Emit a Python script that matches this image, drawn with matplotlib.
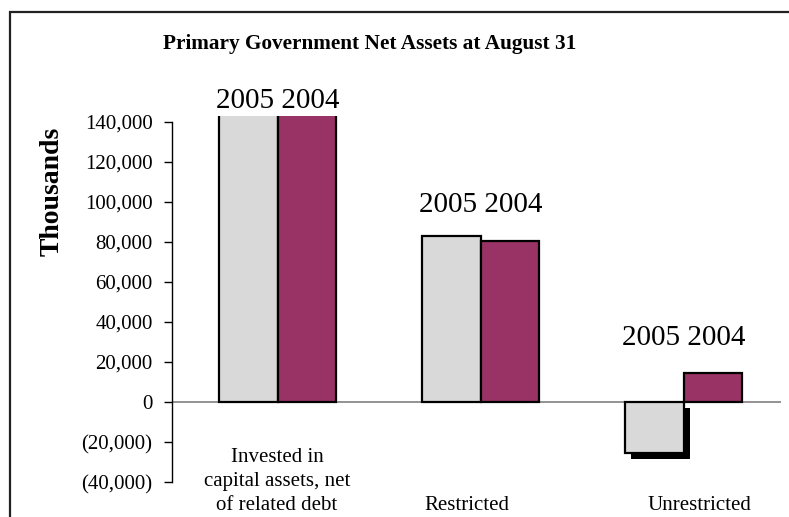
import matplotlib
matplotlib.use("Agg")
from matplotlib import pyplot as plt
from matplotlib.patches import Rectangle
import numpy as np

# data
categories = ["Invested in\ncapital assets, net\nof related debt", "Restricted", "Unrestricted"]
years = ["2005", "2004"]
values_2005 = [160000, 83000, -25500]
values_2004 = [160000, 80500, 14500]
label_y = [144000, 92000, 25500]  # where the "2005 2004" labels sit

yticks = [-40000, -20000, 0, 20000, 40000, 60000, 80000, 100000, 120000, 140000]

def fmt(v):
    if v < 0:
        return "({:,})".format(-v)
    return "{:,}".format(v)

plt.rcParams['font.family'] = ['Liberation Serif', 'DejaVu Serif']

W, H = 789, 517
fig = plt.figure(figsize=(W / 100, H / 100), dpi=100)
# plot area reaches a bit above the 140,000 tick
ax = fig.add_axes([172 / W, 1 - 482 / H, (781 - 172) / W, (482 - 116) / H])

x = np.arange(len(categories))
bw = 0.288
gray = "#D9D9D9"
purple = "#993366"

# shadow under negative bars
for i, v in enumerate(values_2005):
    if v < 0:
        ax.add_patch(Rectangle((x[i] - bw + 0.03, v - 3000), bw, -v, facecolor="black",
                               edgecolor="none", zorder=1))

ax.bar(x - bw / 2, values_2005, bw, color=gray, edgecolor="black", linewidth=1.6, zorder=2)
ax.bar(x + bw / 2, values_2004, bw, color=purple, edgecolor="black", linewidth=1.6, zorder=2)

ax.axhline(0, color="#808080", linewidth=1.2, zorder=1.5)

for i in range(len(categories)):
    ax.text(x[i], label_y[i], " ".join(years), ha="center", va="bottom", fontsize=21,
            clip_on=False)

ax.set_xlim(-0.52, 2.48)
ax.set_ylim(-40000, 143000)
ax.set_yticks(yticks)
ax.set_yticklabels([fmt(v) for v in yticks], fontsize=15)
ax.set_xticks([])
ax.tick_params(axis="y", direction="out", length=6, width=1, pad=8)
for s in ["top", "right", "bottom"]:
    ax.spines[s].set_visible(False)
ax.spines["left"].set_linewidth(1)
ax.spines["left"].set_bounds(-40000, 140000)

# category labels under the plot
cat_x = [277, 467, 699]
for cx, c in zip(cat_x, categories):
    fig.text(cx / W, 1 - 515 / H, c, ha="center", va="bottom", fontsize=15, linespacing=1.35)

fig.text(52 / W, 1 - 191 / H, "Thousands", rotation=90, ha="center", va="center",
         fontsize=20, fontweight="bold")
fig.text(370 / W, 1 - 44 / H, "Primary Government Net Assets at August 31", ha="center",
         va="center", fontsize=15.3, fontweight="bold")

# outer frame of the chart
fig.patches.append(Rectangle((10 / W, -0.1), 1.2, 1 - 12 / H + 0.1, transform=fig.transFigure,
                             fill=False, edgecolor="#222222", linewidth=1.6))

fig.savefig("out.png", dpi=100)
